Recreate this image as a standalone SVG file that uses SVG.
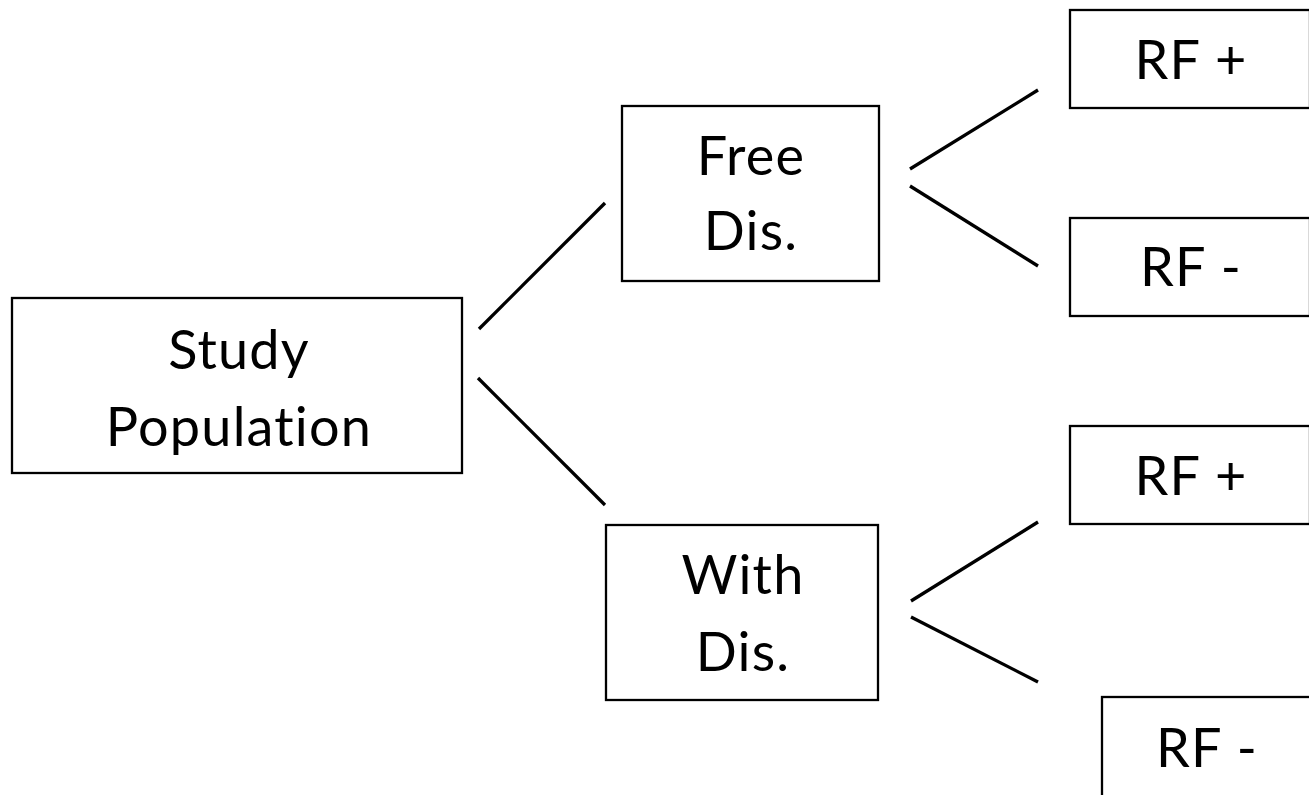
<svg xmlns="http://www.w3.org/2000/svg" width="1309" height="795" viewBox="0 0 1309 795">
  <style>
    .box { fill: #ffffff; stroke: #000000; stroke-width: 2.3; }
    .label { font-family: Lato, "Open Sans", "Liberation Sans", sans-serif; font-size: 54px; letter-spacing: 1.2px; font-variant-ligatures: none; fill: #000000; text-anchor: middle; }
    .link { stroke: #000000; stroke-width: 3.3; stroke-linecap: butt; fill: none; }
  </style>
  <rect width="1309" height="795" fill="#ffffff"/>

  <!-- connectors -->
  <g id="connectors">
    <line class="link" x1="479" y1="329" x2="605" y2="203"/>
    <line class="link" x1="478" y1="378" x2="605" y2="505"/>
    <line class="link" x1="910" y1="169" x2="1038" y2="90"/>
    <line class="link" x1="910" y1="186" x2="1038" y2="266"/>
    <line class="link" x1="911" y1="601" x2="1038" y2="522"/>
    <line class="link" x1="911" y1="617" x2="1038" y2="682"/>
  </g>

  <!-- root -->
  <g id="study-population">
    <rect class="box" x="12" y="298" width="450" height="175"/>
    <text class="label" x="239" y="369">Study</text>
    <text class="label" x="239" y="446">Population</text>
  </g>

  <!-- second level -->
  <g id="free-dis">
    <rect class="box" x="622" y="106" width="257" height="175"/>
    <text class="label" x="751" y="175">Free</text>
    <text class="label" x="751" y="250">Dis.</text>
  </g>
  <g id="with-dis">
    <rect class="box" x="606" y="525" width="272" height="175"/>
    <text class="label" x="743" y="594">With</text>
    <text class="label" x="743" y="671">Dis.</text>
  </g>

  <!-- third level -->
  <g id="free-rf-pos">
    <rect class="box" x="1070" y="10" width="240" height="98"/>
    <text class="label" x="1191" y="79">RF +</text>
  </g>
  <g id="free-rf-neg">
    <rect class="box" x="1070" y="218" width="240" height="98"/>
    <text class="label" x="1191" y="286">RF -</text>
  </g>
  <g id="with-rf-pos">
    <rect class="box" x="1070" y="426" width="240" height="98"/>
    <text class="label" x="1191" y="495">RF +</text>
  </g>
  <g id="with-rf-neg">
    <rect class="box" x="1102" y="697" width="209" height="110"/>
    <text class="label" x="1207" y="767">RF -</text>
  </g>
</svg>
